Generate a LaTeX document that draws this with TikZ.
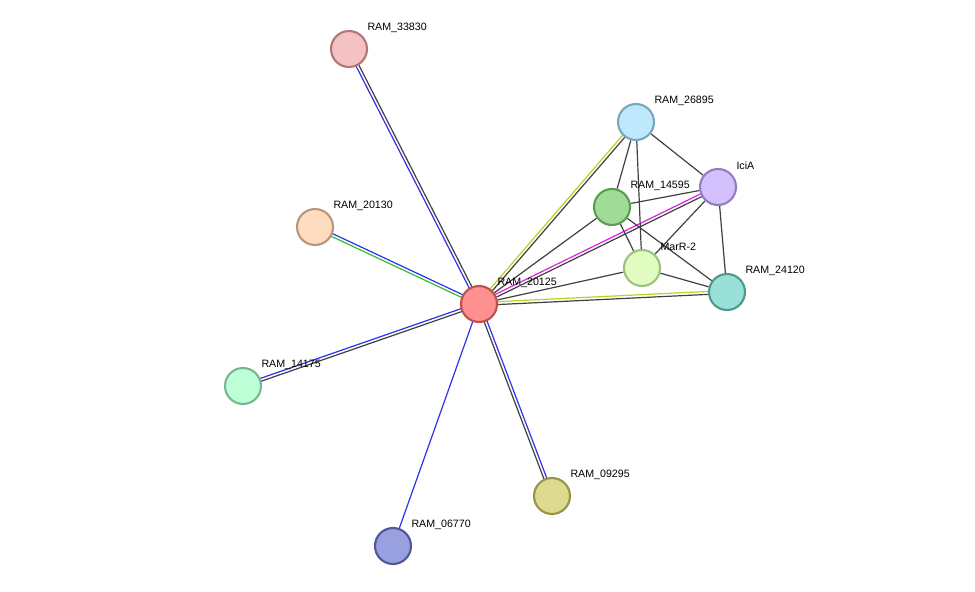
\documentclass[tikz,border=0pt]{standalone}
\usepackage{fontspec}
\setmainfont{Liberation Sans}
\usetikzlibrary{calc,backgrounds}
\tikzset{every picture/.style={line width=0.75pt}}
\tikzset{
  prot/.style={circle,minimum size=27pt,inner sep=0pt,line width=1.6pt},
  lbl/.style={anchor=west,inner sep=0.75pt,font=\fontsize{8}{9}\selectfont},
  edge/.style={line width=0.9pt}
}
\definecolor{ekblack}{HTML}{404040}
\definecolor{ekblue}{HTML}{3030F0}
\definecolor{ekyellow}{HTML}{C0D020}
\definecolor{ekpink}{HTML}{E020E0}
\definecolor{ekgreen}{HTML}{30C030}
% two coloured strands side by side
\newcommand{\twoline}[4]{%
  \draw[edge,#3] ($(#1)!1.1pt!90:(#2)$) -- ($(#2)!1.1pt!-90:(#1)$);
  \draw[edge,#4] ($(#1)!1.1pt!-90:(#2)$) -- ($(#2)!1.1pt!90:(#1)$);}

\begin{document}
\begin{tikzpicture}[x=0.75pt,y=-0.75pt]
	\useasboundingbox (0,0) rectangle (975,592);
	
	%Proteins
	\node[prot,fill={rgb,255:red,255;green,144;blue,144},draw={rgb,255:red,192;green,80;blue,80}] (r20125) at (479,304) {};
	\node[prot,fill={rgb,255:red,244;green,194;blue,194},draw={rgb,255:red,176;green,120;blue,120}] (r33830) at (349,49) {};
	\node[prot,fill={rgb,255:red,253;green,220;blue,191},draw={rgb,255:red,184;green,151;blue,122}] (r20130) at (315,227) {};
	\node[prot,fill={rgb,255:red,191;green,255;blue,216},draw={rgb,255:red,120;green,184;blue,144}] (r14175) at (243,386) {};
	\node[prot,fill={rgb,255:red,152;green,160;blue,224},draw={rgb,255:red,80;green,88;blue,152}] (r06770) at (393,546) {};
	\node[prot,fill={rgb,255:red,222;green,218;blue,144},draw={rgb,255:red,152;green,148;blue,72}] (r09295) at (552,496) {};
	\node[prot,fill={rgb,255:red,192;green,232;blue,252},draw={rgb,255:red,120;green,168;blue,192}] (r26895) at (636,122) {};
	\node[prot,fill={rgb,255:red,212;green,192;blue,252},draw={rgb,255:red,144;green,128;blue,192}] (icia) at (718,187) {};
	\node[prot,fill={rgb,255:red,160;green,220;blue,152},draw={rgb,255:red,88;green,160;blue,80}] (r14595) at (612,207) {};
	\node[prot,fill={rgb,255:red,224;green,252;blue,192},draw={rgb,255:red,160;green,192;blue,128}] (marr) at (642,268) {};
	\node[prot,fill={rgb,255:red,152;green,224;blue,216},draw={rgb,255:red,80;green,152;blue,144}] (r24120) at (727,292) {};
	
	%Links
	\begin{scope}[on background layer]
	\twoline{r20125}{r33830}{ekblue}{ekblack}
	\twoline{r20125}{r20130}{ekgreen}{ekblue}
	\twoline{r20125}{r14175}{ekblack}{ekblue}
	\draw[edge,ekblue] (r20125) -- (r06770);
	\twoline{r20125}{r09295}{ekblue}{ekblack}
	\twoline{r20125}{r26895}{ekyellow}{ekblack}
	\twoline{r20125}{icia}{ekpink}{ekblack}
	\twoline{r20125}{r24120}{ekyellow}{ekblack}
	\foreach \a/\b in {r20125/r14595,r20125/marr,r26895/r14595,r26895/marr,r26895/icia,
	    r14595/icia,r14595/marr,r14595/r24120,icia/marr,icia/r24120,marr/r24120}
	  \draw[edge,ekblack] (\a) -- (\b);
	\end{scope}
	
	%Labels
	\foreach \n/\t in {r20125/RAM\_20125,r33830/RAM\_33830,r20130/RAM\_20130,r14175/RAM\_14175,
	    r06770/RAM\_06770,r09295/RAM\_09295,r26895/RAM\_26895,icia/IciA,r14595/RAM\_14595,
	    marr/MarR-2,r24120/RAM\_24120}
	  \node[lbl] (l-\n) at ($(\n)+(17,-21)$) {\t};
	
\end{tikzpicture}
\end{document}
